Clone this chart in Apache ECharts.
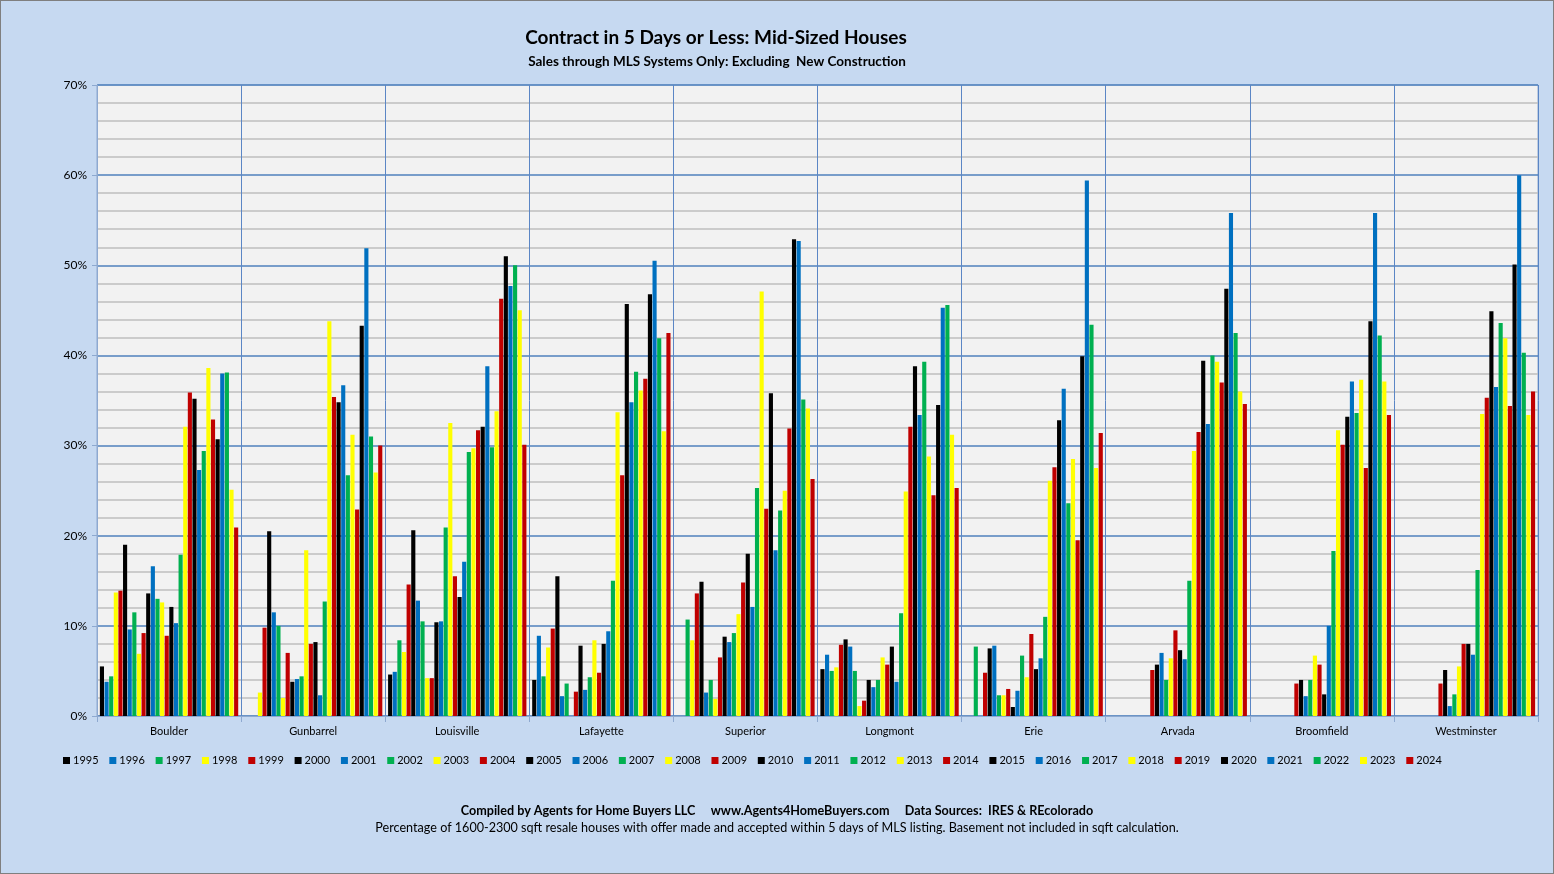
<!DOCTYPE html>
<html>
<head>
<meta charset="utf-8">
<title>Contract in 5 Days or Less: Mid-Sized Houses</title>
<script src="https://cdn.jsdelivr.net/npm/echarts@6/dist/echarts.min.js"></script>
<style>
  html, body { margin: 0; padding: 0; background: #c6d9f1; }
  #main { width: 1554px; height: 874px; box-sizing: border-box; border: 1px solid #7f7f7f; }
</style>
</head>
<body>
<div id="main"></div>
<script>
// cities on the x axis
var cities = ['Boulder', 'Gunbarrel', 'Louisville', 'Lafayette', 'Superior',
              'Longmont', 'Erie', 'Arvada', 'Broomfield', 'Westminster'];
var years = [];
for (var y = 1995; y <= 2024; y++) years.push(String(y));

// percent of houses under contract within 5 days, 1995..2024 per city
var boulder     = [5.5,3.8,4.4,13.7,13.9,19.0,9.6,11.5,6.9,9.2,13.6,16.6,13.0,12.6,8.9,12.1,10.3,17.9,32.1,35.9,35.2,27.3,29.4,38.6,32.9,30.7,38.0,38.1,25.1,20.9];
var gunbarrel   = [0,0,0,2.6,9.8,20.5,11.5,10.0,2.0,7.0,3.8,4.1,4.4,18.4,8.0,8.2,2.3,12.7,43.8,35.4,34.8,36.7,26.7,31.2,22.9,43.3,51.9,31.0,27.0,30.0];
var louisville  = [4.6,4.9,8.4,7.1,14.6,20.6,12.8,10.5,4.2,4.2,10.4,10.5,20.9,32.5,15.5,13.2,17.1,29.3,29.7,31.7,32.1,38.8,29.8,33.8,46.3,51.0,47.7,50.0,45.0,30.1];
var lafayette   = [4.0,8.9,4.4,7.6,9.7,15.5,2.2,3.6,0,2.7,7.8,2.9,4.3,8.4,4.8,8.0,9.4,15.0,33.7,26.7,45.7,34.8,38.2,36.1,37.4,46.8,50.5,41.9,31.6,42.5];
var superior    = [0,0,10.7,8.4,13.6,14.9,2.6,4.0,1.9,6.5,8.8,8.2,9.2,11.3,14.8,18.0,12.1,25.3,47.1,23.0,35.8,18.4,22.8,25.0,31.9,52.9,52.7,35.1,34.1,26.3];
var longmont    = [5.2,6.8,5.0,5.4,7.9,8.5,7.7,5.0,1.1,1.7,4.0,3.2,4.0,6.5,5.7,7.7,3.8,11.4,24.9,32.1,38.8,33.4,39.3,28.8,24.5,34.5,45.3,45.6,31.2,25.3];
var erie        = [0,0,7.7,0,4.8,7.5,7.8,2.3,2.3,3.0,1.0,2.8,6.7,4.3,9.1,5.2,6.4,11.0,26.1,27.6,32.8,36.3,23.6,28.5,19.5,39.9,59.4,43.4,27.5,31.4];
var arvada      = [0,0,0,0,0,0,0,0,0,5.1,5.7,7.0,4.0,6.4,9.5,7.3,6.3,15.0,29.4,31.5,39.4,32.4,40.0,39.3,37.0,47.4,55.8,42.5,36.0,34.6];
var broomfield  = [0,0,0,0,0,0,0,0,0,3.6,4.0,2.2,4.0,6.7,5.7,2.4,10.0,18.3,31.7,30.1,33.2,37.1,33.6,37.3,27.5,43.8,55.8,42.2,37.1,33.4];
var westminster = [0,0,0,0,0,0,0,0,0,3.6,5.1,1.1,2.4,5.5,8.0,8.0,6.8,16.2,33.5,35.3,44.9,36.5,43.6,41.9,34.4,50.1,60.0,40.3,33.4,36.0];

var cityData = [boulder, gunbarrel, louisville, lafayette, superior,
                longmont, erie, arvada, broomfield, westminster];

// excel palette repeats every 5 years
var palette = ['#000000', '#0070c0', '#00b050', '#ffff00', '#c00000'];

var font = 'Lato, "Open Sans", sans-serif';

var series = [];
for (var i = 0; i < years.length; i++) {
    var vals = [];
    for (var c = 0; c < cities.length; c++) vals.push(cityData[c][i]);
    series.push({
        name: years[i],
        type: 'bar',
        data: vals,
        barGap: '12%',
        barCategoryGap: '4%',
        itemStyle: { color: palette[i % 5] },
        animation: false
    });
}

var myChart = echarts.init(document.getElementById('main'));
var option = {
    backgroundColor: '#c6d9f1',
    textStyle: { fontFamily: font },
    title: [{
        text: 'Contract in 5 Days or Less: Mid-Sized Houses',
        left: 710, top: 22, textAlign: 'center',
        textStyle: { fontFamily: font, fontSize: 19, fontWeight: 'bold', color: '#000' }
    }, {
        text: 'Sales through MLS Systems Only: Excluding  New Construction',
        left: 711, top: 49, textAlign: 'center',
        textStyle: { fontFamily: font, fontSize: 13.5, fontWeight: 'bold', color: '#000' }
    }, {
        text: 'Compiled by Agents for Home Buyers LLC     www.Agents4HomeBuyers.com     Data Sources:  IRES & REcolorado',
        left: 771, top: 798, textAlign: 'center',
        textStyle: { fontFamily: font, fontSize: 12.6, fontWeight: 'bold', color: '#000' }
    }, {
        text: 'Percentage of 1600-2300 sqft resale houses with offer made and accepted within 5 days of MLS listing. Basement not included in sqft calculation.',
        left: 771, top: 815, textAlign: 'center',
        textStyle: { fontFamily: font, fontSize: 12.6, fontWeight: 'normal', color: '#000' }
    }],
    legend: {
        data: years,
        left: 57, top: 749,
        itemWidth: 7, itemHeight: 7, itemGap: 10.8,
        icon: 'rect',
        textStyle: { fontFamily: font, fontSize: 11, color: '#000', padding: [0, 0, 0, -2] }
    },
    grid: {
        left: 96, top: 84, width: 1441, height: 631,
        show: true, backgroundColor: '#f2f2f2', borderColor: '#8ea9d0', borderWidth: 1
    },
    xAxis: {
        type: 'category',
        data: cities,
        axisLine: { lineStyle: { color: '#8ea9d0', width: 1 } },
        axisTick: { show: true, length: 6, lineStyle: { color: '#8ea9d0' } },
        axisLabel: { color: '#000', fontSize: 11, margin: 10 },
        splitLine: { show: true, lineStyle: { color: '#5b86c5', width: 1 } }
    },
    yAxis: {
        type: 'value',
        min: 0, max: 70, interval: 10,
        axisLine: { show: true, lineStyle: { color: '#8ea9d0' } },
        axisTick: { show: true, length: 5, lineStyle: { color: '#8ea9d0' } },
        axisLabel: { formatter: '{value}%', color: '#000', fontSize: 12, margin: 10 },
        splitLine: { lineStyle: { color: '#4f81bd', width: 1.5 } },
        minorTick: { show: false, splitNumber: 5 },
        minorSplitLine: { show: true, lineStyle: { color: '#bfbfbf', width: 1.5 } }
    },
    series: series
};
myChart.setOption(option);
</script>
</body>
</html>
